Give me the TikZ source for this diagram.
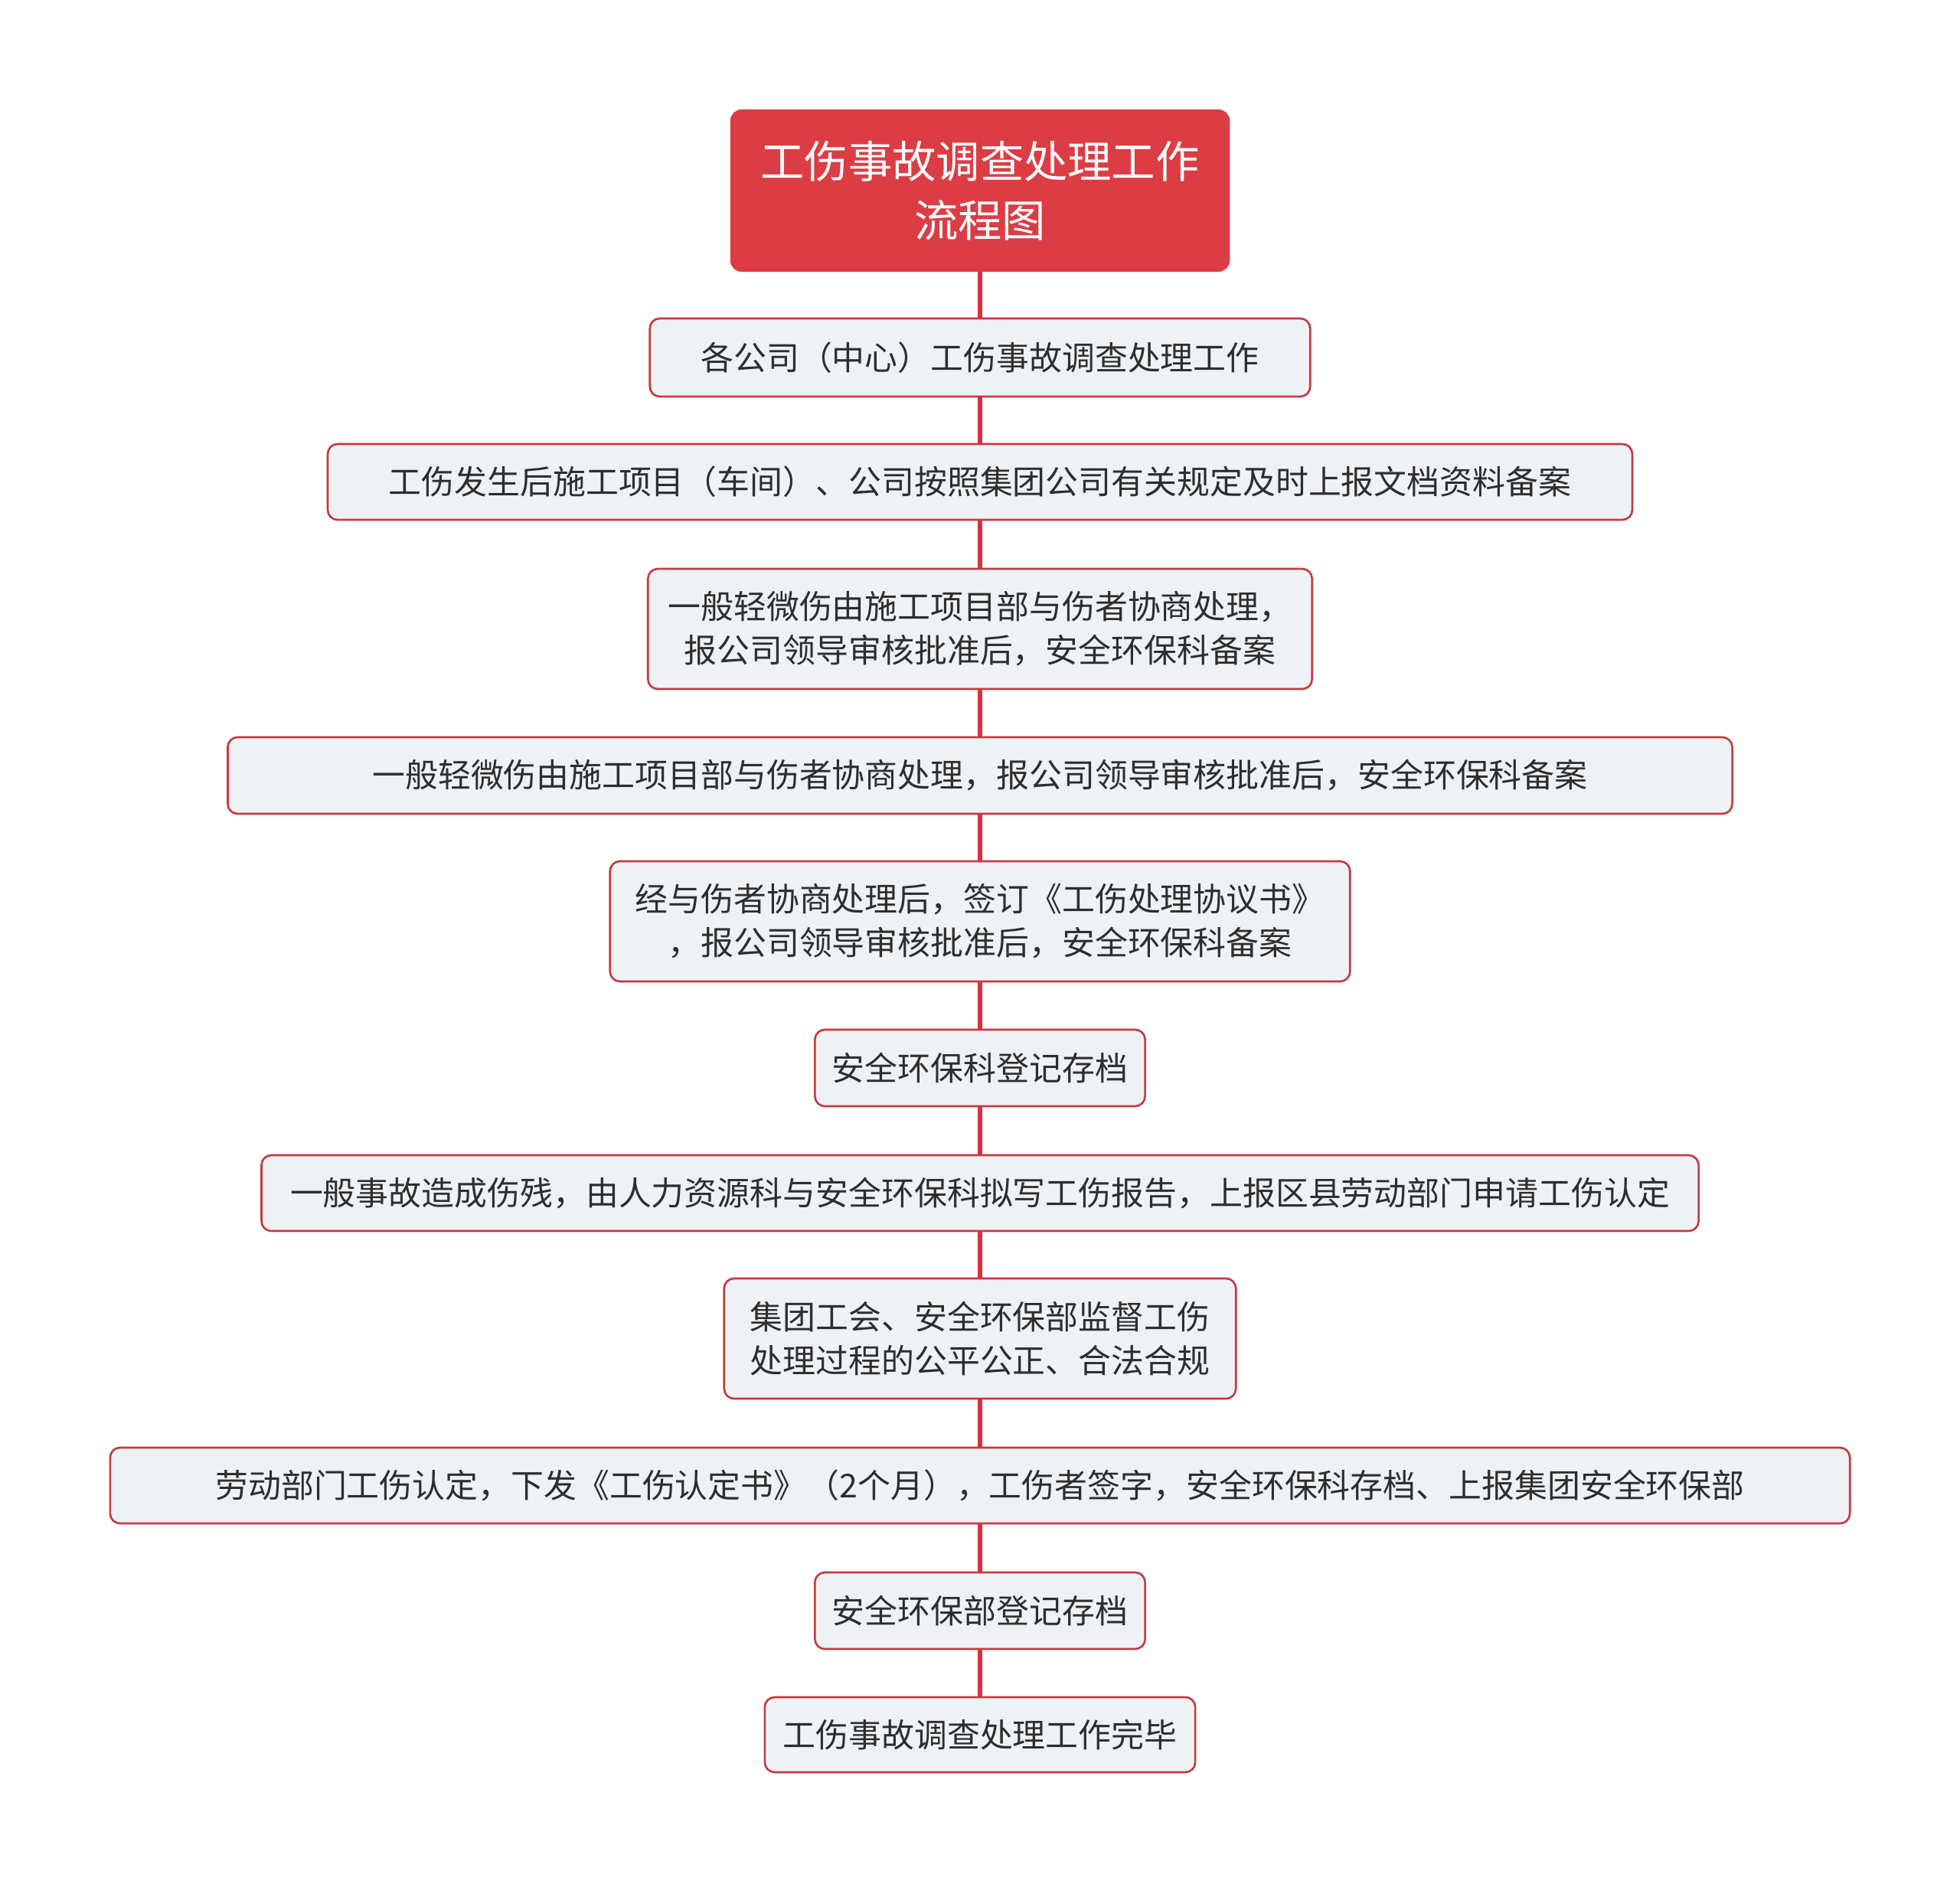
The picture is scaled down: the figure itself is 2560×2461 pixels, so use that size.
\documentclass[tikz,border=0pt]{standalone}
\usepackage{fontspec}
\setmainfont{Noto Sans CJK SC}
\definecolor{rootred}{HTML}{DC3D45}
\definecolor{linered}{HTML}{D5343D}
\definecolor{boxborder}{HTML}{C43A42}
\definecolor{boxfill}{HTML}{EFF2F5}
\definecolor{txt}{HTML}{2E2E2E}
\begin{document}
\begin{tikzpicture}[x=0.01cm,y=-0.01cm,
  rootbox/.style={draw=rootred, fill=rootred, rounded corners=0.14cm, line width=0.6pt,
    text=white, align=center, inner sep=0pt, font=\fontsize{16.3}{21.8}\selectfont},
  stepbox/.style={draw=boxborder, fill=boxfill, rounded corners=0.13cm, line width=0.75pt,
    text=txt, align=center, inner sep=0pt, font=\fontsize{12.2}{16.2}\selectfont},
  conn/.style={draw=linered, line width=1.45pt}]
\useasboundingbox (0,0) rectangle (2560,2461);
\fill[white] (0,0) rectangle (2560,2461);
\node[rootbox, minimum width=6.5cm, minimum height=2.1cm] (root) at (1280,249) {工伤事故调查处理工作\\流程图};
\node[stepbox, minimum width=8.62cm, minimum height=1.02cm] (b1) at (1280,467) {各公司（中心）工伤事故调查处理工作};
\node[stepbox, minimum width=17.03cm, minimum height=0.99cm] (b2) at (1280,629.5) {工伤发生后施工项目（车间）、公司按照集团公司有关规定及时上报文档资料备案};
\node[stepbox, minimum width=8.67cm, minimum height=1.57cm] (b3) at (1280,821.5) {一般轻微伤由施工项目部与伤者协商处理，\\报公司领导审核批准后，安全环保科备案};
\node[stepbox, minimum width=19.64cm, minimum height=1.0cm] (b4) at (1280,1013) {一般轻微伤由施工项目部与伤者协商处理，报公司领导审核批准后，安全环保科备案};
\node[stepbox, minimum width=9.66cm, minimum height=1.57cm] (b5) at (1280,1203.5) {经与伤者协商处理后，签订《工伤处理协议书》\\，报公司领导审核批准后，安全环保科备案};
\node[stepbox, minimum width=4.31cm, minimum height=1.0cm] (b6) at (1280,1395) {安全环保科登记存档};
\node[stepbox, minimum width=18.76cm, minimum height=0.99cm] (b7) at (1280,1558.5) {一般事故造成伤残，由人力资源科与安全环保科拟写工伤报告，上报区县劳动部门申请工伤认定};
\node[stepbox, minimum width=6.68cm, minimum height=1.57cm] (b8) at (1280,1748.5) {集团工会、安全环保部监督工伤\\处理过程的公平公正、合法合规};
\node[stepbox, minimum width=22.71cm, minimum height=0.99cm] (b9) at (1280,1940.5) {劳动部门工伤认定，下发《工伤认定书》（2个月），工伤者签字，安全环保科存档、上报集团安全环保部};
\node[stepbox, minimum width=4.31cm, minimum height=1.0cm] (b10) at (1280,2104) {安全环保部登记存档};
\node[stepbox, minimum width=5.62cm, minimum height=0.98cm] (b11) at (1280,2266) {工伤事故调查处理工作完毕};
\begin{scope}[on background layer/.try]
\end{scope}
\draw[conn] (root.south) -- (b1.north);
\draw[conn] (b1.south) -- (b2.north);
\draw[conn] (b2.south) -- (b3.north);
\draw[conn] (b3.south) -- (b4.north);
\draw[conn] (b4.south) -- (b5.north);
\draw[conn] (b5.south) -- (b6.north);
\draw[conn] (b6.south) -- (b7.north);
\draw[conn] (b7.south) -- (b8.north);
\draw[conn] (b8.south) -- (b9.north);
\draw[conn] (b9.south) -- (b10.north);
\draw[conn] (b10.south) -- (b11.north);
\end{tikzpicture}
\end{document}
